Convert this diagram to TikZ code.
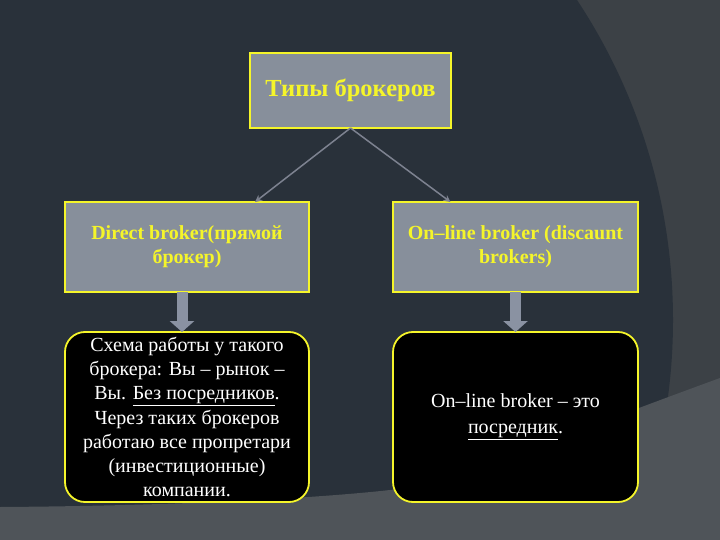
\documentclass[tikz,border=0pt]{standalone}
\usepackage{fontspec}
\setmainfont{Liberation Serif}
\usetikzlibrary{arrows.meta}
\definecolor{bgright}{HTML}{3C4146}
\definecolor{bgdark}{HTML}{29313A}
\definecolor{bgbottom}{HTML}{4F5459}
\definecolor{boxfill}{HTML}{878F9B}
\definecolor{ylw}{HTML}{F5F52A}
\definecolor{conn}{HTML}{7D8290}
\definecolor{blockarr}{HTML}{8A92A2}
\tikzset{
  headbox/.style={draw=ylw, line width=1.8pt, fill=boxfill, inner sep=0pt, outer sep=0pt,
    align=center, text=ylw, font=\bfseries},
  infobox/.style={draw=ylw, line width=1.8pt, fill=black, rounded corners=20pt, inner sep=0pt,
    outer sep=0pt, align=center, text=white, minimum width=244pt, minimum height=170pt},
  thinarrow/.style={draw=conn, line width=1.5pt, -{Stealth[length=7pt,width=7pt]}},
  blockarrow/.style={draw=blockarr, line width=11pt, -{Triangle[length=11pt,width=24pt]}}
}
\begin{document}
\begin{tikzpicture}[x=1pt,y=-1pt]
\useasboundingbox (0,0) rectangle (720,540);
% background
\fill[bgright] (0,0) rectangle (720,540);
\fill[bgdark] (92,320) circle (581);
\fill[bgbottom] (0,507) .. controls (150,506) and (300,500) .. (390,490)
  .. controls (450,483) and (550,440) .. (720,378) -- (720,540) -- (0,540) -- cycle;
% nodes
\node[headbox, minimum width=201pt, minimum height=75pt, font=\bfseries\fontsize{24.5}{28}\selectfont] (top) at (350.5,90.5) {Типы брокеров};
\node[headbox, minimum width=244pt, minimum height=90pt, font=\bfseries\fontsize{20}{24}\selectfont] (left) at (187,247) {Direct broker(прямой\\брокер)};
\node[headbox, minimum width=245pt, minimum height=90pt, font=\bfseries\fontsize{20}{24}\selectfont] (right) at (515.5,247) {On–line broker (discaunt\\brokers)};
\node[infobox, font=\fontsize{20}{24.2}\selectfont] (lbot) at (187,417) {Схема работы у такого\\брокера: Вы – рынок –\\Вы. \underline{Без посредников}.\\Через таких брокеров\\работаю все пропретари\\(инвестиционные)\\компании.};
\node[infobox, minimum width=245pt, font=\fontsize{20}{26}\selectfont] (rbot) at (515.5,417) {On–line broker – это\\\underline{посредник}.};
% connectors
\draw[thinarrow] (top.south) -- ([xshift=68pt]left.north);
\draw[thinarrow] (top.south) -- ([xshift=-65pt]right.north);
\draw[blockarrow] ([xshift=-5pt]left.south) -- ([xshift=-5pt]lbot.north);
\draw[blockarrow] (right.south) -- (rbot.north);
\end{tikzpicture}
\end{document}
